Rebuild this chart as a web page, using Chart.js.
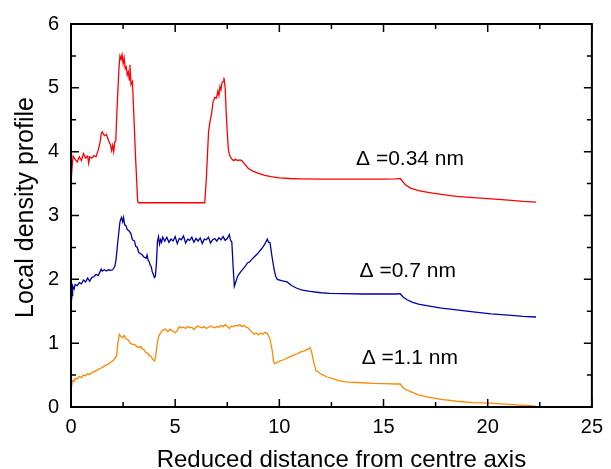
<!DOCTYPE html>
<html><head><meta charset="utf-8">
<script src="https://cdn.jsdelivr.net/npm/chart.js@4"></script>
<style>html,body{margin:0;padding:0;background:#fff}#wrap{width:611px;height:469px}</style>
</head><body><div id="wrap"><canvas id="c" width="611" height="469"></canvas></div>
<script>
const xTicks = [0, 5, 10, 15, 20, 25];
const yTicks = [0, 1, 2, 3, 4, 5, 6];
const xTitle = "Reduced distance from centre axis";
const yTitle = "Local density profile";
const seriesNames = ["Δ =0.34 nm", "Δ =0.7 nm", "Δ =1.1 nm"];

const redX = [0.0,0.05,0.1,0.2,0.3,0.4,0.5,0.6,0.7,0.8,0.85,0.9,1.0,1.1,1.2,1.3,1.4,1.45,1.5,1.6,1.7,1.8,1.9,1.95,2.0,2.05,2.1,2.15,2.2,2.3,2.35,2.4,2.45,2.5,2.55,2.6,2.65,2.7,2.75,2.8,2.83,2.88,2.95,3.0,3.1,3.2,3.25,6.42,6.5,6.6,6.66,6.75,6.82,6.9,6.98,7.05,7.1,7.15,7.2,7.25,7.3,7.34,7.4,7.45,7.5,7.55,7.6,7.7,7.8,7.9,8.0,8.1,8.2,8.3,8.5,8.7,9.0,9.3,9.6,10.0,10.5,11,12,13,14,15,15.6,15.8,15.9,16.05,16.3,16.68,17.2,17.78,18.5,19.3,20.16,21,21.7,22.32];
const redY = [3.5,3.75,3.93,3.88,3.84,3.92,3.86,3.97,3.9,3.93,3.82,3.92,3.9,3.94,3.92,4.02,4.15,4.28,4.31,4.25,4.27,4.18,4.1,4.02,4.1,4.0,4.15,4.17,4.6,5.3,5.5,5.45,5.52,5.38,5.47,5.3,5.33,5.2,5.25,5.12,5.36,5.05,5.1,4.7,3.9,3.22,3.2,3.2,3.6,4.3,4.45,4.6,4.78,4.85,4.84,4.95,4.88,5.02,4.97,5.08,5.1,5.16,5.0,4.6,4.3,4.05,3.95,3.89,3.86,3.88,3.86,3.87,3.86,3.82,3.74,3.7,3.66,3.63,3.61,3.59,3.58,3.575,3.57,3.57,3.57,3.57,3.575,3.58,3.54,3.48,3.43,3.39,3.36,3.33,3.3,3.28,3.26,3.24,3.22,3.21];

const blueX = [0.0,0.05,0.08,0.15,0.2,0.3,0.4,0.5,0.6,0.7,0.8,0.9,1.0,1.1,1.2,1.3,1.4,1.45,1.5,1.6,1.7,1.8,1.9,2.0,2.1,2.16,2.25,2.35,2.42,2.48,2.52,2.58,2.64,2.7,2.78,2.87,2.95,3.05,3.1,3.18,3.25,3.35,3.42,3.5,3.6,3.65,3.7,3.75,3.8,3.85,3.9,3.95,4.0,4.05,4.1,4.15,4.2,4.25,4.3,4.35,4.4,4.5,4.6,4.7,4.8,4.9,5.0,5.1,5.2,5.3,5.4,5.5,5.6,5.7,5.8,5.9,6.0,6.1,6.2,6.3,6.4,6.5,6.6,6.7,6.8,6.9,7.0,7.1,7.2,7.3,7.4,7.5,7.6,7.65,7.72,7.78,7.84,7.9,8.0,8.08,8.2,8.35,8.48,8.56,8.7,8.85,8.95,9.1,9.2,9.3,9.42,9.48,9.55,9.65,9.74,9.82,9.9,10.1,10.37,10.6,10.84,11.1,11.47,12.0,12.42,13,14,15,15.6,15.8,15.95,16.13,16.4,16.68,17.2,17.78,18.5,19.3,20.16,21,21.7,22.32];
const blueY = [1.6,1.75,1.9,1.85,1.92,1.9,1.95,1.93,1.99,1.96,2.02,1.97,2.03,2.04,2.08,2.06,2.12,2.16,2.13,2.15,2.13,2.15,2.14,2.15,2.2,2.3,2.6,2.9,2.97,2.9,2.97,2.85,2.84,2.78,2.76,2.72,2.62,2.6,2.52,2.5,2.42,2.4,2.38,2.35,2.33,2.38,2.3,2.28,2.22,2.2,2.12,2.08,2.03,2.05,2.25,2.6,2.67,2.55,2.62,2.58,2.66,2.6,2.66,2.58,2.63,2.6,2.67,2.56,2.64,2.62,2.68,2.57,2.63,2.61,2.66,2.58,2.64,2.6,2.65,2.56,2.63,2.62,2.66,2.57,2.62,2.64,2.6,2.65,2.62,2.67,2.61,2.64,2.7,2.62,2.58,2.2,1.89,1.95,2.05,2.09,2.14,2.2,2.26,2.27,2.32,2.37,2.4,2.46,2.5,2.55,2.63,2.58,2.58,2.35,2.17,2.05,2.0,1.98,1.96,1.9,1.86,1.83,1.81,1.79,1.78,1.775,1.77,1.77,1.77,1.775,1.72,1.68,1.64,1.61,1.58,1.55,1.52,1.49,1.46,1.44,1.42,1.41];

const orangeX = [0.0,0.05,0.1,0.15,0.2,0.3,0.4,0.5,0.6,0.7,0.8,0.9,1.0,1.1,1.2,1.3,1.4,1.5,1.6,1.7,1.8,1.9,2.0,2.1,2.19,2.25,2.32,2.4,2.48,2.55,2.64,2.75,2.85,2.95,3.05,3.15,3.25,3.35,3.42,3.5,3.6,3.7,3.75,3.82,3.9,3.95,4.01,4.06,4.12,4.2,4.3,4.4,4.53,4.65,4.75,4.85,5.0,5.1,5.2,5.3,5.4,5.5,5.6,5.7,5.8,5.9,6.0,6.1,6.2,6.3,6.4,6.5,6.6,6.7,6.8,6.9,7.0,7.1,7.2,7.3,7.4,7.5,7.6,7.7,7.8,7.9,8.0,8.1,8.2,8.3,8.4,8.5,8.6,8.7,8.79,8.9,9.0,9.1,9.2,9.3,9.42,9.5,9.55,9.65,9.72,9.77,9.9,10.0,10.21,10.4,10.6,10.84,11.0,11.2,11.4,11.47,11.55,11.65,11.76,11.9,12.03,12.3,12.6,12.89,13.3,14.0,14.5,15.0,15.58,15.8,15.97,16.3,16.68,17.2,17.78,18.5,19.3,20.16,21,21.5,22.05,22.32];
const orangeY = [0.25,0.38,0.42,0.4,0.45,0.44,0.48,0.46,0.5,0.49,0.52,0.51,0.54,0.55,0.57,0.59,0.6,0.62,0.64,0.66,0.67,0.7,0.72,0.76,0.8,1.0,1.14,1.1,1.09,1.12,1.07,1.05,1.0,0.98,0.98,0.95,0.93,0.95,0.91,0.9,0.85,0.84,0.8,0.8,0.76,0.74,0.72,0.78,0.95,1.1,1.16,1.2,1.22,1.18,1.22,1.2,1.16,1.2,1.26,1.24,1.25,1.23,1.26,1.24,1.25,1.21,1.25,1.27,1.25,1.24,1.26,1.23,1.25,1.27,1.25,1.24,1.26,1.25,1.28,1.26,1.29,1.26,1.23,1.27,1.26,1.28,1.27,1.29,1.26,1.28,1.25,1.24,1.2,1.17,1.14,1.16,1.13,1.16,1.14,1.17,1.15,1.1,1.06,0.9,0.72,0.68,0.7,0.72,0.74,0.77,0.8,0.83,0.86,0.88,0.91,0.93,0.86,0.7,0.57,0.54,0.51,0.47,0.44,0.41,0.39,0.38,0.37,0.365,0.36,0.36,0.29,0.24,0.19,0.15,0.12,0.09,0.07,0.06,0.04,0.03,0.02,0.01];

function pts(xs, ys){ return xs.map((x,i)=>({x:x, y:ys[i]})); }

const FONT = "'Liberation Sans', Arial, sans-serif";

const framePlugin = {
  id: 'frame',
  afterDraw(chart){
    const {ctx, chartArea:a, scales} = chart;
    const xs = scales.x, ys = scales.y;
    ctx.save();
    ctx.strokeStyle = '#000';
    ctx.lineWidth = 2;
    ctx.strokeRect(a.left, a.top, a.right - a.left, a.bottom - a.top);
    ctx.lineWidth = 1.5;
    ctx.beginPath();
    for (let v = 0; v <= 25; v += 2.5){
      const px = xs.getPixelForValue(v);
      const len = (Math.abs(v % 5) < 1e-9) ? 8 : 5;
      ctx.moveTo(px, a.bottom); ctx.lineTo(px, a.bottom - len);
      ctx.moveTo(px, a.top); ctx.lineTo(px, a.top + len);
    }
    for (let v = 0; v <= 6; v += 0.5){
      const py = ys.getPixelForValue(v);
      const len = (Math.abs(v % 1) < 1e-9) ? 8 : 5;
      ctx.moveTo(a.left, py); ctx.lineTo(a.left + len, py);
      ctx.moveTo(a.right, py); ctx.lineTo(a.right - len, py);
    }
    ctx.stroke();
    ctx.fillStyle = '#000';
    // axis titles
    ctx.font = '24px ' + FONT;
    ctx.textAlign = 'center';
    ctx.textBaseline = 'alphabetic';
    ctx.fillText(xTitle, (a.left + a.right) / 2 + 10, 467);
    ctx.save();
    ctx.translate(33, (a.top + a.bottom) / 2 - 8);
    ctx.rotate(-Math.PI / 2);
    ctx.font = '25px ' + FONT;
    ctx.fillText(yTitle, 0, 0);
    ctx.restore();
    // series annotations
    const anchors = [[13.68, 3.88], [13.85, 2.12], [13.95, 0.76]];
    ctx.font = '21px ' + FONT;
    ctx.textBaseline = 'middle';
    ctx.textAlign = 'left';
    seriesNames.forEach((t, i) => {
      ctx.fillText(t, xs.getPixelForValue(anchors[i][0]), ys.getPixelForValue(anchors[i][1]));
    });
    ctx.restore();
  }
};

new Chart(document.getElementById('c'), {
  type: 'line',
  data: {
    datasets: [
      {label: seriesNames[0], data: pts(redX, redY), borderColor: '#ff0000', borderWidth: 1.3, pointRadius: 0, tension: 0},
      {label: seriesNames[1], data: pts(blueX, blueY), borderColor: '#0000a8', borderWidth: 1.3, pointRadius: 0, tension: 0},
      {label: seriesNames[2], data: pts(orangeX, orangeY), borderColor: '#ff8800', borderWidth: 1.3, pointRadius: 0, tension: 0}
    ]
  },
  options: {
    responsive: false,
    animation: false,
    layout: {padding: {top: 18, right: 12, left: 0, bottom: 0}},
    plugins: {legend: {display: false}, tooltip: {enabled: false}},
    scales: {
      x: {
        type: 'linear', min: 0, max: 25,
        afterBuildTicks(s){ s.ticks = xTicks.map(v => ({value: v})); },
        afterFit(s){ s.height = 62; },
        grid: {display: false, drawTicks: false},
        border: {display: false},
        ticks: {color: '#000', padding: 8, font: {family: FONT, size: 20}, maxRotation: 0},
        title: {display: false}
      },
      y: {
        type: 'linear', min: 0, max: 6,
        afterBuildTicks(s){ s.ticks = yTicks.map(v => ({value: v})); },
        afterFit(s){ s.width = 71; },
        grid: {display: false, drawTicks: false},
        border: {display: false},
        ticks: {color: '#000', padding: 12, font: {family: FONT, size: 20}},
        title: {display: false}
      }
    }
  },
  plugins: [framePlugin]
});
</script>
</body></html>
